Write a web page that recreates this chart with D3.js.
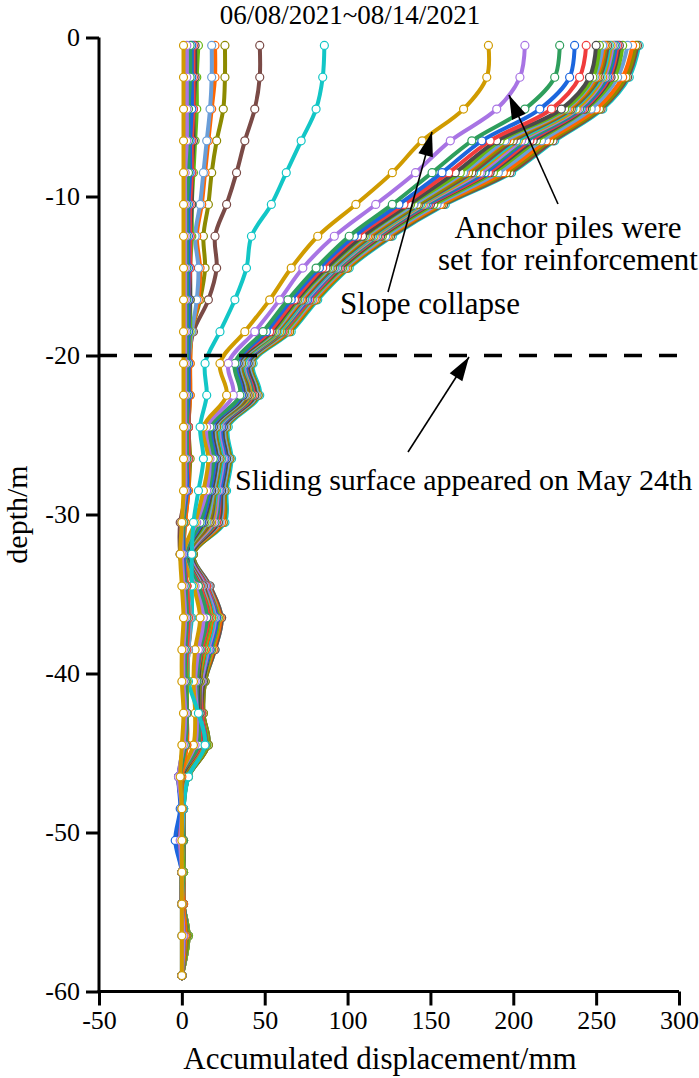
<!DOCTYPE html>
<html>
<head>
<meta charset="utf-8">
<script src="https://cdn.jsdelivr.net/npm/d3@7"></script>
<style>
  html, body { margin: 0; padding: 0; background: #fff; }
  svg { display: block; }
</style>
</head>
<body>
<div id="chart"></div>
<script>
// ---------------- data ----------------
const depths = [-0.5,-2.5,-4.5,-6.5,-8.5,-10.5,-12.5,-14.5,-16.5,-18.5,-20.5,-22.5,-24.5,-26.5,-28.5,-30.5,-32.5,-34.5,-36.5,-38.5,-40.5,-42.5,-44.5,-46.5,-48.5,-50.5,-52.5,-54.5,-56.5,-59];
const xTicks = [-50, 0, 50, 100, 150, 200, 250, 300];
const yTicks = [0, -10, -20, -30, -40, -50, -60];
const titleText = "06/08/2021~08/14/2021";
const xTitle = "Accumulated displacement/mm";
const yTitle = "depth/m";
const slidingDepth = -20;

const palette = ["#D09B00", "#A874E4", "#2E9E5C", "#1C66DE", "#F03C3C", "#4A4A4A",
                 "#66B612", "#6A9ED8", "#FF6600", "#8C8A00", "#7A4A46", "#12C6C6"];

const s01 = [1,1,1,1,1,1,1,1,1,1,1,1,1,1,1,0,-1,0,1,0,0,1,0,-1,0,0,0,0,0,0];
const s02 = [3,3,3,3,2,2,2,2,2,2,2,2,2,2,2,0,0,1,2,1,1,2,1,-2,0,-1,0,0,1,0];
const s03 = [5,5,4,4,4,3,3,3,3,3,3,3,3,3,2,1,0,2,3,2,2,3,2,-1,0,0,0,0,1,0];
const s04 = [6,6,6,5,5,4,4,4,4,4,4,4,3,3,3,1,1,2,3,2,2,2,1,-2,-1,-4,0,0,0,0];
const s05 = [7,7,7,6,6,5,5,5,4,4,4,4,4,4,3,1,1,3,4,3,2,3,2,-1,0,-1,0,0,1,0];
const s06 = [8,8,7,7,6,6,5,5,5,4,4,4,4,4,3,0,-1,2,3,2,2,3,2,-2,0,-2,0,0,1,0];
const s07 = [10,9,9,8,7,6,6,5,5,5,4,4,4,4,3,1,1,3,4,3,3,3,2,-1,0,0,1,0,1,0];
const s08 = [18,18,17,15,13,11,8,10,9,6,4,4,4,4,3,1,1,3,5,4,3,3,2,-1,0,0,1,0,1,0];
const s09 = [20,20,18,16,14,12,9,11,10,6,5,5,4,4,4,2,1,3,5,4,3,3,3,0,0,0,1,1,2,0];
const s10 = [26,26,25,21,18,16,13,14,11,6,5,5,4,5,4,2,1,3,5,4,3,3,3,-1,0,0,1,0,2,0];
const s11 = [47,47,44,38,33,27,20,21,16,7,4,4,3,4,3,-1,-1,2,4,3,2,2,2,-2,0,-1,0,0,1,0];
const s12 = [86,85,81,72,63,54,42,39,32,23,14,15,11,13,10,7,6,6,6,4,4,10,14,4,1,0,0,0,1,0];
const s13 = [185,184,170,145,127,105,82,66,53,38,23,27,13,16,13,8,1,7,11,8,7,8,7,-1,0,-1,0,0,1,0];
const s14 = [207,204,190,162,141,117,92,73,59,44,28,31,15,17,15,9,1,8,13,10,8,9,8,-1,0,0,0,0,1,0];
const s15 = [228,225,207,175,151,127,101,81,64,49,32,35,17,19,16,11,2,10,15,11,9,9,10,-1,0,0,0,0,2,0];
const s16 = [237,234,216,181,157,131,104,83,66,51,33,36,18,20,17,12,2,10,15,11,9,9,10,-1,0,-3,0,0,2,0];
const s17 = [244,240,223,186,161,134,106,85,68,53,33,36,18,20,17,12,2,11,16,12,9,9,11,-1,0,0,0,0,2,0];
const s18 = [250,246,229,190,165,137,109,87,69,54,34,37,19,21,18,13,3,11,16,12,10,10,11,0,0,0,0,0,2,0];
const s19 = [252,248,231,192,168,138,110,88,70,55,34,37,19,21,18,14,3,11,17,13,10,10,11,0,0,0,0,0,2,0];
const s20 = [254,249,232,195,170,140,111,89,71,56,35,38,20,22,19,15,3,12,17,13,10,10,11,0,0,0,0,0,2,0];
const s21 = [255,250,233,196,171,140,112,89,72,56,35,38,20,22,19,15,3,12,18,14,10,10,12,0,0,0,0,0,2,0];
const s22 = [256,251,234,198,173,142,113,90,72,57,36,39,21,23,20,16,4,12,18,14,11,10,12,1,0,0,0,0,3,0];
const s23 = [257,252,235,200,175,143,114,91,73,57,36,40,21,23,20,17,4,13,18,14,11,11,12,1,0,0,0,0,3,0];
const s24 = [258,253,236,202,176,144,115,92,74,58,37,40,22,24,21,17,4,13,19,15,11,11,13,1,0,0,0,0,3,0];
const s25 = [259,254,238,203,178,145,116,92,74,59,37,41,22,24,21,18,4,13,19,15,11,11,13,1,0,0,0,0,3,0];
const s26 = [260,255,239,205,180,146,117,93,75,59,38,41,23,25,22,19,5,14,20,16,12,11,13,2,1,0,0,0,3,0];
const s27 = [261,256,240,207,181,147,118,94,75,60,38,42,23,25,22,20,5,14,20,16,12,11,13,2,1,1,1,1,3,0];
const s28 = [262,257,241,208,183,148,118,94,76,60,39,42,24,26,23,20,5,14,21,17,12,11,14,2,1,-2,1,1,3,0];
const s29 = [263,258,242,210,185,149,119,95,77,61,39,43,24,26,23,21,5,15,21,17,12,12,14,2,1,1,1,1,3,0];
const s30 = [264,259,243,212,186,150,120,96,77,61,40,44,25,27,24,22,6,15,21,17,13,12,14,3,1,1,1,1,3,0];
const s31 = [266,261,244,214,188,152,121,97,78,62,40,44,25,27,24,22,6,15,22,18,13,12,15,3,1,1,1,1,4,0];
const s32 = [269,263,247,217,191,154,123,98,79,63,41,45,26,28,25,23,6,16,22,18,13,12,15,3,1,1,1,1,4,0];
const s33 = [272,266,250,220,194,156,124,99,80,64,41,45,26,28,25,24,6,16,23,19,13,12,15,3,1,1,1,1,4,0];
const s34 = [274,268,252,222,196,157,125,100,81,65,42,46,27,29,26,25,7,16,23,19,14,13,16,4,1,1,1,1,4,0];
const s35 = [275,269,253,224,198,158,126,100,81,65,42,46,27,29,26,25,7,17,24,20,14,13,16,4,1,1,1,1,4,0];
const s36 = [276,270,254,225,199,159,127,101,82,66,43,47,28,30,27,26,7,17,24,20,14,13,16,4,1,1,1,1,4,0];

const seriesList = [s01,s02,s03,s04,s05,s06,s07,s08,s09,s10,s11,s12,s13,s14,s15,s16,s17,s18,
                    s19,s20,s21,s22,s23,s24,s25,s26,s27,s28,s29,s30,s31,s32,s33,s34,s35,s36];

const noteAnchor = ["Anchor piles were", "set for reinforcement"];
const noteSlope = "Slope collapse";
const noteSliding = "Sliding surface appeared on May 24th";

// ---------------- layout ----------------
const FONT = '"Liberation Serif", "Times New Roman", "DejaVu Serif", serif';
const W = 699, H = 1078;
const svg = d3.select("#chart").append("svg").attr("width", W).attr("height", H)
  .attr("font-family", FONT);

const x = d3.scaleLinear().domain([-50, 300]).range([99, 679]);
const y = d3.scaleLinear().domain([0, -60]).range([37.5, 991.5]);

function txt(sel) { return sel.attr("font-family", FONT).style("font-family", FONT).attr("fill", "#000"); }

// title
txt(svg.append("text")).attr("x", 350).attr("y", 24).attr("text-anchor", "middle")
  .style("font-size", "27px").text(titleText);

// axes
const fmt = d => String(d);
const yAxis = d3.axisLeft(y).tickValues(yTicks).tickSize(13).tickPadding(6).tickFormat(fmt);
const gy = svg.append("g").attr("transform", `translate(${x(-50)},0)`).call(yAxis);
const xAxis = d3.axisBottom(x).tickValues(xTicks).tickSize(14).tickPadding(5).tickFormat(fmt);
const gx = svg.append("g").attr("transform", `translate(0,${y(-60)})`).call(xAxis);
[gx, gy].forEach(g => {
  g.attr("font-family", FONT).attr("font-size", 26);
  g.select(".domain").attr("stroke", "#000").attr("stroke-width", 3);
  g.selectAll(".tick line").attr("stroke", "#000").attr("stroke-width", 3);
  txt(g.selectAll(".tick text")).style("font-size", "26px");
});
gy.select(".domain").attr("d", `M0,${y(0)}V${y(-60)}`);
gx.select(".domain").attr("d", `M${x(-50) - 1.5},0H${x(300)}`);

txt(svg.append("text")).attr("x", 380).attr("y", 1069).attr("text-anchor", "middle")
  .style("font-size", "31px").text(xTitle);
txt(svg.append("text")).attr("transform", `translate(27,${y(-30)}) rotate(-90)`)
  .attr("text-anchor", "middle").style("font-size", "30px").text(yTitle);

// series
const line = d3.line().x(d => x(d[0])).y(d => y(d[1])).curve(d3.curveCatmullRom.alpha(0.5));
const plot = svg.append("g");
const order = d3.range(seriesList.length).reverse();
order.forEach(i => {
  const vals = seriesList[i];
  const pts = vals.map((v, j) => [v, depths[j]]);
  const col = palette[i % palette.length];
  const g = plot.append("g");
  g.append("path").attr("d", line(pts)).attr("fill", "none").attr("stroke", col)
    .attr("stroke-width", 4).attr("stroke-linejoin", "round");
  g.selectAll("circle").data(pts).join("circle")
    .attr("cx", d => x(d[0])).attr("cy", d => y(d[1])).attr("r", 4)
    .attr("fill", "#fff").attr("stroke", col).attr("stroke-width", 1.2);
});

// sliding surface dashed line
svg.append("line").attr("x1", x(-50)).attr("x2", 692).attr("y1", y(slidingDepth)).attr("y2", y(slidingDepth))
  .attr("stroke", "#000").attr("stroke-width", 3.5).attr("stroke-dasharray", "18,17");

// arrows
function arrow(x1, y1, x2, y2) {
  svg.append("line").attr("x1", x1).attr("y1", y1).attr("x2", x2).attr("y2", y2)
    .attr("stroke", "#000").attr("stroke-width", 1.6);
  const a = Math.atan2(y2 - y1, x2 - x1), L = 24, w = 7.5;
  const bx = x2 - L * Math.cos(a), by = y2 - L * Math.sin(a);
  svg.append("path").attr("d", `M${x2},${y2}L${bx + w * Math.sin(a)},${by - w * Math.cos(a)}L${bx - w * Math.sin(a)},${by + w * Math.cos(a)}Z`)
    .attr("fill", "#000");
}
arrow(558, 204, 509, 95);
arrow(388, 292, 432, 132);
arrow(408, 452, 469, 357);

// annotation texts
txt(svg.append("text")).attr("x", 568).attr("y", 238).attr("text-anchor", "middle").style("font-size", "31px").text(noteAnchor[0]);
txt(svg.append("text")).attr("x", 568).attr("y", 270).attr("text-anchor", "middle").style("font-size", "31px").text(noteAnchor[1]);
txt(svg.append("text")).attr("x", 340).attr("y", 314).style("font-size", "31px").text(noteSlope);
txt(svg.append("text")).attr("x", 235).attr("y", 490).style("font-size", "30px").text(noteSliding);
</script>
</body>
</html>
